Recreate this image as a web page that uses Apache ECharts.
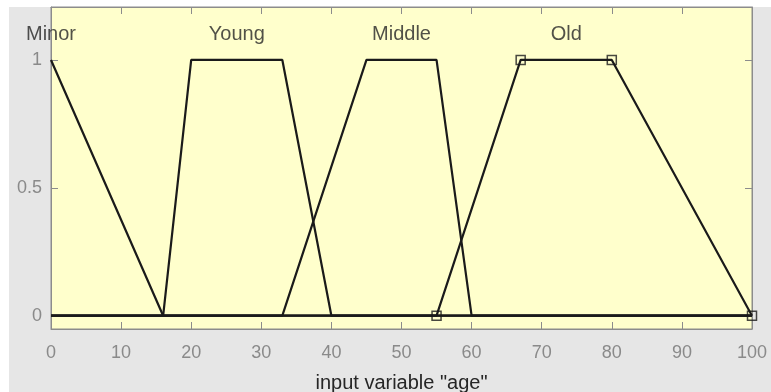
<!DOCTYPE html>
<html>
<head>
<meta charset="utf-8">
<script src="https://cdn.jsdelivr.net/npm/echarts@6/dist/echarts.min.js"></script>
<style>
html,body{margin:0;padding:0;background:#ffffff;}
#main{width:771px;height:392px;}
</style>
</head>
<body>
<div id="main"></div>
<script>
// Membership function vertices [x, membership]
var mfNames = ['Minor', 'Young', 'Middle', 'Old'];
var minorPts  = [[0, 1], [16, 0], [100, 0]];
var youngPts  = [[0, 0], [16, 0], [20, 1], [33, 1], [40, 0], [100, 0]];
var middlePts = [[0, 0], [33, 0], [45, 1], [55, 1], [60, 0], [100, 0]];
var oldPts    = [[0, 0], [55, 0], [67, 1], [80, 1], [100, 0]];
// selected MF parameter markers (Old)
var oldParamPts = [[55, 0], [67, 1], [80, 1], [100, 0]];
// label anchors for MF names
var labelX = [0, 26.5, 50, 73.5];
var labelY = [1.1, 1.1, 1.1, 1.1];
var xTicks = [0, 10, 20, 30, 40, 50, 60, 70, 80, 90, 100];
var yTicks = [0, 0.5, 1];
var xTitle = 'input variable "age"';

var chart = echarts.init(document.getElementById('main'), null, {renderer: 'canvas'});

var lineStyle = {color: '#1a1a1a', width: 2.2};
function mfSeries(name, pts) {
  return {
    type: 'line', name: name, data: pts, showSymbol: false, symbol: 'none',
    lineStyle: lineStyle, animation: false, silent: true, z: 3
  };
}
var labelData = mfNames.map(function (n, i) { return {name: n, value: [labelX[i], labelY[i]]}; });

var axisGray = '#8c8c8c';
var option = {
  animation: false,
  graphic: [{
    type: 'rect', left: 9, top: 7, z: -10,
    shape: {width: 762, height: 385},
    style: {fill: '#e6e6e6'}
  }],
  grid: {
    left: 51, top: 7, width: 701, height: 322,
    outerBoundsMode: 'none', containLabel: false,
    show: true, backgroundColor: '#ffffcc', borderColor: axisGray, borderWidth: 1
  },
  xAxis: [{
    type: 'value', min: 0, max: 100, interval: 10,
    name: xTitle, nameLocation: 'middle', nameGap: 44,
    nameTextStyle: {color: '#262626', fontSize: 20, fontFamily: 'Liberation Sans'},
    axisLine: {show: true, onZero: false, lineStyle: {color: axisGray}},
    axisTick: {show: true, inside: true, length: 7, lineStyle: {color: axisGray}, customValues: xTicks},
    axisLabel: {color: '#8a8a8a', fontSize: 18, margin: 15, fontFamily: 'Liberation Sans', customValues: xTicks},
    splitLine: {show: false}
  }, {
    type: 'value', position: 'top', min: 0, max: 100, interval: 10,
    axisLine: {show: true, onZero: false, lineStyle: {color: axisGray}},
    axisTick: {show: true, inside: true, length: 7, lineStyle: {color: axisGray}},
    axisLabel: {show: false}, splitLine: {show: false}
  }],
  yAxis: [{
    type: 'value', min: -0.052, max: 1.207,
    axisLine: {show: true, onZero: false, lineStyle: {color: axisGray}},
    axisTick: {show: true, inside: true, length: 7, lineStyle: {color: axisGray}, customValues: yTicks},
    axisLabel: {color: '#8a8a8a', fontSize: 18, margin: 9, fontFamily: 'Liberation Sans', customValues: yTicks,
      formatter: function (v) { return String(v); }},
    splitLine: {show: false}
  }, {
    type: 'value', position: 'right', min: -0.052, max: 1.207,
    axisLine: {show: true, onZero: false, lineStyle: {color: axisGray}},
    axisTick: {show: true, inside: true, length: 7, lineStyle: {color: axisGray}, customValues: yTicks},
    axisLabel: {show: false}, splitLine: {show: false}
  }],
  series: [
    mfSeries('Minor', minorPts),
    mfSeries('Young', youngPts),
    mfSeries('Middle', middlePts),
    mfSeries('Old', oldPts),
    {
      type: 'scatter', data: oldParamPts, symbol: 'rect', symbolSize: 9,
      itemStyle: {color: 'rgba(0,0,0,0)', borderColor: '#1a1a1a', borderWidth: 1.5},
      silent: true, z: 4
    },
    {
      type: 'scatter', data: labelData, symbolSize: 0, silent: true, z: 5,
      label: {show: true, position: 'inside', formatter: '{b}', color: '#262626',
        fontSize: 20, fontFamily: 'Liberation Sans'}
    }
  ]
};
chart.setOption(option);
</script>
</body>
</html>
